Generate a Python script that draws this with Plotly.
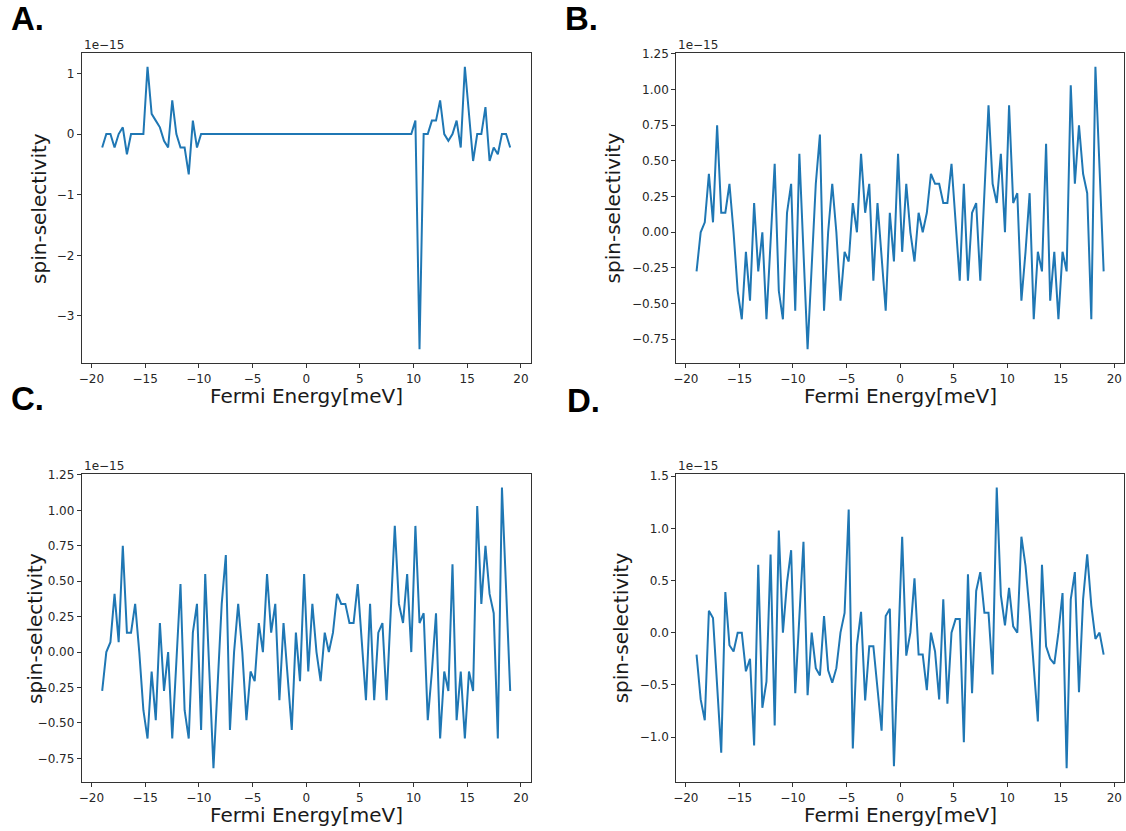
import numpy as np
import plotly.graph_objects as go

W, H = 1126, 831

# Fermi energy grid (meV)
energy = np.linspace(-19, 19, 100)

# spin-selectivity values, in units of 1e-15
spin_a = ([-0.222, 0, 0, -0.222, 0, 0.111, -0.333, 0, 0, 0,
           0, 1.11, 0.333, 0.222, 0.111, -0.111, -0.222, 0.555, 0, -0.222,
           -0.222, -0.666, 0.222, -0.222]
          + [0.0] * 52
          + [0.222, -3.55, 0, 0, 0.222, 0.222, 0.555, 0, -0.111, 0,
             0.222, -0.222, 1.11, 0.333, -0.444, 0, 0, 0.444, -0.444, -0.222,
             -0.333, 0, 0, -0.222])

spin_b = [-0.274, 0, 0.07, 0.41, 0.07, 0.75, 0.137, 0.137, 0.34, 0.0,
          -0.41, -0.61, -0.137, -0.48, 0.205, -0.274, 0, -0.61, -0.068, 0.48,
          -0.41, -0.61, 0.137, 0.34, -0.55, 0.55, -0.137, -0.82, -0.24, 0.34,
          0.685, -0.55, 0, 0.34, 0, -0.48, -0.137, -0.205, 0.205, 0,
          0.55, 0.137, 0.34, -0.34, 0.205, -0.205, -0.55, 0.137, -0.205, 0.55,
          -0.137, 0.34, 0, -0.205, 0.137, 0, 0.137, 0.41, 0.34, 0.34,
          0.205, 0.205, 0.48, 0.07, -0.34, 0.34, -0.34, 0.137, 0.205, -0.34,
          0.274, 0.89, 0.34, 0.205, 0.55, 0, 0.89, 0.205, 0.274, -0.48,
          -0.137, 0.274, -0.61, -0.137, -0.274, 0.62, -0.48, -0.137, -0.61, -0.137,
          -0.274, 1.03, 0.34, 0.75, 0.41, 0.274, -0.61, 1.16, 0.45, -0.274]

spin_c = list(spin_b)

spin_d = [-0.21, -0.64, -0.84, 0.21, 0.14, -0.5, -1.15, 0.39, -0.12, -0.18,
          0, 0, -0.37, -0.25, -1.08, 0.65, -0.72, -0.47, 0.75, -0.89,
          0.98, 0, 0.48, 0.79, -0.58, 0.15, 0.87, -0.6, 0, -0.34,
          -0.41, 0.16, -0.36, -0.48, -0.34, 0, 0.19, 1.18, -1.11, -0.12,
          0.2, -0.65, -0.13, -0.13, -0.53, -0.94, 0.16, 0.23, -1.28, -0.18,
          0.92, -0.22, 0, 0.52, -0.21, -0.21, -0.55, 0, -0.18, -0.64,
          0.32, -0.68, 0, 0.13, 0.13, -1.05, 0.56, -0.58, 0.4, 0.58,
          0.19, 0.19, -0.4, 1.39, 0.36, 0.07, 0.43, 0.06, 0, 0.92,
          0.64, 0.2, -0.34, -0.85, 0.65, -0.13, -0.25, -0.3, 0, 0.38,
          -1.3, 0.32, 0.58, -0.57, 0.32, 0.75, 0.26, -0.06, 0, -0.21]

panel_labels = ["A.", "B.", "C.", "D."]
series = [spin_a, spin_b, spin_c, spin_d]
y_dtick = [1, 0.25, 0.25, 0.5]
y_fmt = ["d", ".2f", ".2f", ".1f"]
x_ticks = [-20, -15, -10, -5, 0, 5, 10, 15, 20]

# plot areas in pixels: (left, right, top, bottom)
boxes = [(79, 529, 47, 360), (675, 1124, 47, 360),
         (79, 529, 471, 782), (675, 1124, 471, 782)]
ytitle_x = [36, 612, 32, 620]
label_pos = [(6, 13), (561, 13), (6, 395), (564, 397)]

fig = go.Figure()
layout = dict(width=W, height=H, margin=dict(l=0, r=0, t=0, b=0),
              paper_bgcolor="white", plot_bgcolor="white", showlegend=False)
annotations = []
AX = "#333333"
for k in range(4):
    n = "" if k == 0 else str(k + 1)
    l, r, t, b = boxes[k]
    ys = series[k]
    ymin, ymax = min(ys), max(ys)
    pad = 0.05 * (ymax - ymin)
    xmin, xmax = float(energy[0]), float(energy[-1])
    xpad = 0.05 * (xmax - xmin)
    fig.add_trace(go.Scatter(x=energy, y=ys, mode="lines",
                             line=dict(color="#1f77b4", width=2),
                             xaxis="x" + n, yaxis="y" + n,
                             hoverinfo="skip"))
    common = dict(showgrid=False, zeroline=False, showline=True, mirror=True,
                  linecolor=AX, linewidth=1, ticks="outside", ticklen=4,
                  tickwidth=1, tickcolor=AX,
                  tickfont=dict(family="DejaVu Sans", size=12, color="#262626"))
    layout["xaxis" + n] = dict(common, domain=[l / W, r / W],
                               range=[xmin - xpad, xmax + xpad],
                               tickvals=x_ticks, anchor="y" + n)
    layout["yaxis" + n] = dict(common, domain=[1 - b / H, 1 - t / H],
                               range=[ymin - pad, ymax + pad],
                               dtick=y_dtick[k], tick0=0,
                               tickformat=y_fmt[k], anchor="x" + n)
    # axis titles
    annotations.append(dict(text="Fermi Energy[meV]", xref="paper", yref="paper",
                            x=(l + r) / 2 / W, y=1 - (b + 33) / H,
                            xanchor="center", yanchor="middle", showarrow=False,
                            font=dict(family="DejaVu Sans", size=20, color="#1a1a1a")))
    annotations.append(dict(text="spin-selectivity", xref="paper", yref="paper",
                            x=ytitle_x[k] / W, y=1 - (t + b) / 2 / H, textangle=-90,
                            xanchor="center", yanchor="middle", showarrow=False,
                            font=dict(family="DejaVu Sans", size=20, color="#1a1a1a")))
    annotations.append(dict(text="1e\u221215", xref="paper", yref="paper",
                            x=l / W, y=1 - (t - 8) / H,
                            xanchor="left", yanchor="middle", showarrow=False,
                            font=dict(family="DejaVu Sans", size=12, color="#262626")))
    lx, ly = label_pos[k]
    annotations.append(dict(text="<b>" + panel_labels[k] + "</b>", xref="paper", yref="paper",
                            x=lx / W, y=1 - ly / H, xanchor="left", yanchor="middle",
                            showarrow=False,
                            font=dict(family="Liberation Sans", size=33, color="black")))

layout["annotations"] = annotations
fig.update_layout(**layout)
fig.write_html("out.html")
